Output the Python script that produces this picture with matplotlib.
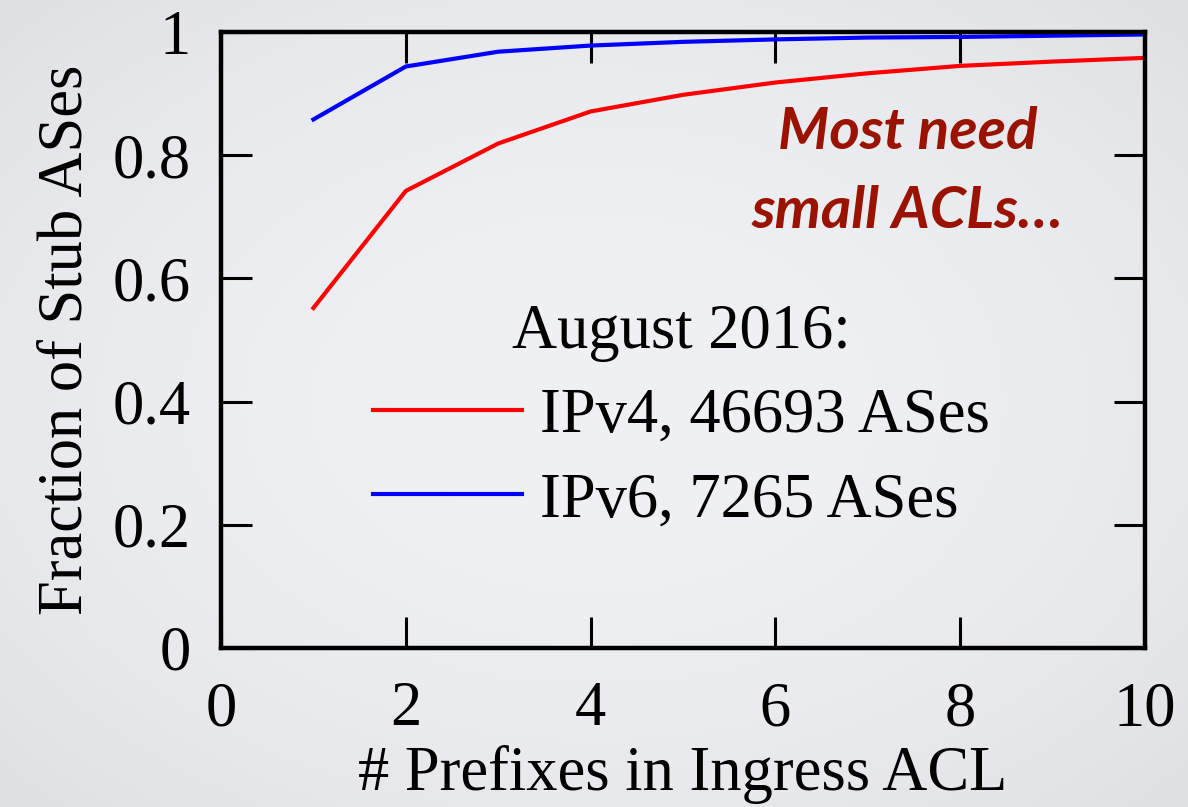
import matplotlib
matplotlib.use("Agg")
import matplotlib.pyplot as plt
import numpy as np

# fraction of stub ASes vs. number of prefixes in the ingress ACL
n_prefixes = [1, 2, 3, 4, 5, 6, 7, 8, 9, 10]
ipv4_frac = [0.552, 0.742, 0.819, 0.871, 0.898, 0.918, 0.933, 0.945, 0.952, 0.958]
ipv6_frac = [0.858, 0.944, 0.968, 0.978, 0.984, 0.988, 0.991, 0.992, 0.994, 0.996]

x_ticks = [0, 2, 4, 6, 8, 10]
y_ticks = [0, 0.2, 0.4, 0.6, 0.8, 1]
y_tick_labels = ["0", "0.2", "0.4", "0.6", "0.8", "1"]

plt.rcParams['font.family'] = ['Liberation Serif', 'DejaVu Serif']

fig = plt.figure(figsize=(11.88, 8.07), dpi=100)

# slide-like light background with a soft vignette
bg = fig.add_axes([0, 0, 1, 1], zorder=-10)
yy, xx = np.mgrid[-1:1:200j, -1:1:300j]
fade = 1 - 0.035 * (xx**2 + yy**2)
base = np.array([0.937, 0.945, 0.957])
bg.imshow(fade[..., None] * base[None, None, :], aspect='auto',
          extent=[0, 1, 0, 1])
bg.axis('off')

ax = fig.add_axes([221 / 1188, 1 - 648 / 807, 924 / 1188, 616 / 807])
ax.patch.set_alpha(0)

ax.plot(n_prefixes, ipv4_frac, color='#ff0000', lw=3, label='IPv4, 46693 ASes')
ax.plot(n_prefixes, ipv6_frac, color='#0000ff', lw=3, label='IPv6, 7265 ASes')

ax.set_xlim(0, 10)
ax.set_ylim(0, 1)
ax.set_xticks(x_ticks)
ax.set_yticks(y_ticks)
ax.set_yticklabels(y_tick_labels)

for s in ax.spines.values():
    s.set_linewidth(3.2)
ax.tick_params(direction='in', length=22, width=2.2, labelsize=45,
               top=True, right=True)
ax.tick_params(axis='x', pad=24)
ax.tick_params(axis='y', pad=22)

ax.set_xlabel('# Prefixes in Ingress ACL', fontsize=45, labelpad=4)
ax.set_ylabel('Fraction of Stub ASes', fontsize=45, labelpad=12)

leg = ax.legend(title='August 2016:', loc='upper left',
                bbox_to_anchor=(0.165, 0.559), frameon=False, fontsize=45,
                title_fontsize=45, handlelength=2.37, handletextpad=0.3,
                labelspacing=0.42, borderpad=0, borderaxespad=0)

ax.text(7.43, 0.88, 'Most need\nsmall ACLs\u2026', fontsize=42, color='#9a1200',
        family='Lato', weight='bold', style='italic', ha='center', va='top',
        linespacing=1.6)

fig.savefig('out.png', dpi=100)
